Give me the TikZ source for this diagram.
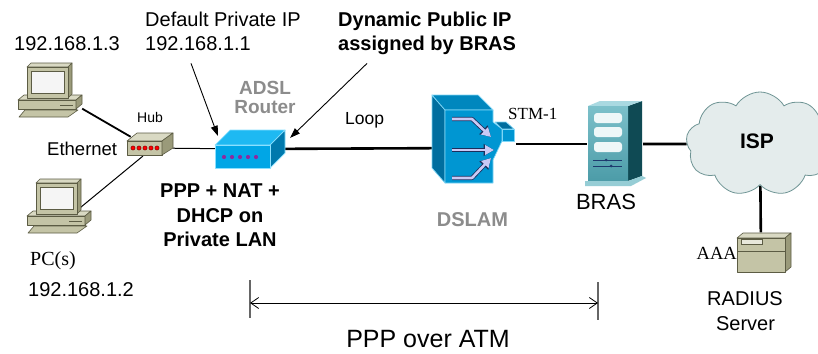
\documentclass[tikz,border=0pt]{standalone}
\usepackage{fontspec}
\setmainfont{Liberation Sans}
\newfontfamily\serifface{Liberation Serif}
\usetikzlibrary{arrows.meta,shapes.symbols}
\pgfdeclarelayer{background}
\pgfsetlayers{background,main}

\definecolor{khakiface}{HTML}{C4C4A6}
\definecolor{khakitop}{HTML}{D9D9C3}
\definecolor{khakiside}{HTML}{9A9A7A}
\definecolor{khakiline}{HTML}{5C5C44}
\definecolor{routerface}{HTML}{00A6E6}
\definecolor{routertop}{HTML}{1EB9F2}
\definecolor{routerside}{HTML}{0079AD}
\definecolor{routeredge}{HTML}{8AE0FF}
\definecolor{dotpurple}{HTML}{8A2BA0}
\definecolor{dslamfront}{HTML}{0096D2}
\definecolor{dslamside}{HTML}{006E9F}
\definecolor{dslamtop}{HTML}{0087BE}
\definecolor{dslamedge}{HTML}{7FD6F6}
\definecolor{arrowlav}{HTML}{C9C9F5}
\definecolor{arrowdark}{HTML}{1C2E5C}
\definecolor{brasfront}{HTML}{4C9CA8}
\definecolor{braslight}{HTML}{7CC0CA}
\definecolor{brastop}{HTML}{A9D9E1}
\definecolor{brasside}{HTML}{0F4A54}
\definecolor{brasbay}{HTML}{EEF7F8}
\definecolor{brasline}{HTML}{1E3A6E}
\definecolor{cloudfill}{HTML}{E4ECEC}
\definecolor{cloudedge}{HTML}{6E9494}
\definecolor{labelgray}{HTML}{8C8C8C}

\tikzset{
  txt/.style={inner sep=0pt, font=\fontsize{20}{24}\selectfont},
  txtb/.style={inner sep=0pt, font=\fontsize{20}{24}\selectfont\bfseries},
  txts/.style={inner sep=0pt, font=\fontsize{20}{24}\selectfont\serifface},
  device/.style={inner sep=0pt, draw=none, fill=none},
  khaki/.style={line width=0.6pt, line join=round, draw=khakiline},
  blueedge/.style={line width=0.7pt, line join=round, draw=routeredge},
  dslamedge/.style={line width=0.7pt, line join=round, draw=dslamedge},
  link/.style={black, line width=2.2pt},
  thinlink/.style={black, line width=1pt},
  callout/.style={black, line width=0.9pt, -{Triangle[length=10pt,width=7pt]}},
  dimtick/.style={black!60, line width=1.5pt},
  dimline/.style={black, line width=0.8pt,
    {Straight Barb[length=8pt,width=11pt]}-{Straight Barb[length=8pt,width=11pt]}},
}

% desktop PC, drawn from its top-left corner, y pointing down
\newcommand\netpcicon{%
  \fill[khakitop,khaki] (0,37)--(6,32)--(64,32)--(58,37)--cycle;
  \fill[khakiface,khaki] (0,37) rectangle (58,46);
  \fill[khakiside,khaki] (58,37)--(64,32)--(64,41)--(58,46)--cycle;
  \draw[khakiline,line width=1pt] (42,42)--(55,42);
  \fill[khakiface,khaki] (1,54)--(7,47)--(60,47)--(50,54)--cycle;
  \fill[khakitop,khaki] (9,4)--(13,0)--(54,0)--(50,4)--cycle;
  \fill[khakiside,khaki] (50,4)--(54,0)--(54,31)--(50,35)--cycle;
  \fill[khakiface,khaki] (9,4) rectangle (50,35);
  \fill[white!96!black,draw=khakiline,line width=0.9pt] (13,8) rectangle (46,30);
}

\begin{document}
\begin{tikzpicture}[x=1pt,y=-1pt]
\begin{pgfonlayer}{background}
  \fill[white] (0,0) rectangle (818,353);
\end{pgfonlayer}
\useasboundingbox (0,0) rectangle (818,353);

% ---------- devices ----------
\node[device, minimum width=64pt, minimum height=54pt] (pc1) at (50,90) {};
\begin{scope}[shift={(18,63)}] \netpcicon \end{scope}

\node[device, minimum width=64pt, minimum height=54pt] (pc2) at (59,206) {};
\begin{scope}[shift={(27,179)}] \netpcicon \end{scope}
\coordinate (pc2jack) at (75,212);
\coordinate (hubjack) at (143,156);

% hub
\node[device, minimum width=46pt, minimum height=22pt] (hub) at (150,148) {};
\fill[khakitop,khaki] (127,141)--(137,133)--(173,133)--(162,141)--cycle;
\fill[khakiface,khaki] (127,141) rectangle (162,155);
\fill[khakiside,khaki] (162,141)--(173,133)--(173,148)--(162,155)--cycle;
\foreach \x in {133,139,145,151,157}
  \fill[red,draw=red!45!black,line width=0.4pt] (\x,148) circle (2.1);

% ADSL router
\node[device, minimum width=70pt, minimum height=38pt] (router) at (250,149) {};
\fill[routertop,blueedge] (215,145)--(230,130)--(285,130)--(270,145)--cycle;
\fill[routerside,blueedge] (270,145)--(285,130)--(285,153)--(270,168)--cycle;
\fill[routerface,blueedge] (215,145) rectangle (270,168);
\foreach \x in {224,232,240,248,256}
  \fill[dotpurple] (\x,157) circle (2.1);

% DSLAM
\node[device, minimum width=84pt, minimum height=88pt] (dslam) at (474,148) {};
\fill[dslamside,dslamedge] (432,95)--(445,110)--(445,183)--(432,168)--cycle;
\fill[dslamtop,dslamedge] (432,95)--(478,95)--(493,110)--(445,110)--cycle;
\fill[dslamfront,dslamedge] (445,110)--(493,110)--(493,122)--(502,129)--(502,141)
  --(493,160)--(493,183)--(445,183)--cycle;
\fill[dslamside,dslamedge] (495,122)--(506,122)--(514,129)--(502,129)--cycle;
\fill[dslamfront,dslamedge] (502,129) rectangle (514,141);
\foreach \p in {{(452,119)--(472,119)--(491,137)},{(452,150)--(494,150)},{(452,178)--(472,178)--(491,158)}}{
  \draw[arrowdark,line width=4.2pt,line join=round,-{Triangle[length=10.5pt,width=11.5pt]}] \p;
  \draw[arrowlav,line width=2.6pt,line join=round,-{Triangle[length=9pt,width=9.5pt]}] \p;
}

% BRAS
\node[device, minimum width=56pt, minimum height=84pt] (bras) at (615,144) {};
\fill[brasside,line join=round] (628,106)--(642,101)--(642,176)--(628,181)--cycle;
\fill[brastop] (588,106)--(600,101)--(642,101)--(628,106)--cycle;
\shade[top color=braslight,bottom color=brasfront] (588,106) rectangle (628,181);
\fill[braslight!80!white] (585,181)--(628,181)--(642,176)--(646,178)--(631,186)--(585,186)--cycle;
\foreach \y in {113,127,142}
  \fill[brasbay,rounded corners=3pt] (594,\y) rectangle (622,\y+10);
\foreach \y in {160,166}
  \draw[brasline,line width=1pt] (593,\y)--(622,\y);
\fill[brasline] (606,160) circle (1.5) (611,166) circle (1.5);

% ISP cloud
\node[cloud, cloud puffs=9, cloud puff arc=120, aspect=1.4, fill=cloudfill,
  draw=cloudedge, line width=0.8pt, minimum width=148pt, minimum height=104pt,
  inner sep=0pt] (isp) at (760,144) {};

% RADIUS server
\node[device, minimum width=54pt, minimum height=39pt] (radius) at (761,252) {};
\fill[khakitop,khaki] (737,238)--(743,233)--(791,233)--(785,238)--cycle;
\fill[khakiside,khaki] (785,238)--(791,233)--(791,267)--(785,272)--cycle;
\fill[khakiface,khaki] (737,238) rectangle (785,272);
\draw[khakiline,line width=0.6pt] (737,251)--(785,251);
\fill[khakitop!60!white,draw=khakiline,line width=0.5pt] (741,239) rectangle (762,244);

% ---------- connectors ----------
\begin{pgfonlayer}{background}
  \draw[link,line width=1.8pt] (pc1) -- (hub);
  \draw[thinlink] (hubjack) -- (pc2jack);
  \draw[thinlink] (hub) -- (router);
  \draw[link,line width=2.6pt] (router) -- (dslam);
  \draw[link] (dslam.east |- bras.west) -- (bras);
  \draw[link,line width=2.6pt] (bras) -- (isp);
  \draw[link,line width=2.6pt] (isp) -- (radius);
\end{pgfonlayer}

% ---------- labels ----------
\node[txt, anchor=base west] (ip3) at (14,50) {192.168.1.3};
\node[txt, anchor=base west] (privip) at (145,27) {Default Private IP};
\node[txt, anchor=base west] (ip1) at (145,50) {192.168.1.1};
\node[txtb, anchor=base west] (pubip) at (338,27) {Dynamic Public IP};
\node[txtb, anchor=base west] (pubip2) at (338,51) {assigned by BRAS};
\node[txt, font=\fontsize{14}{17}\selectfont, anchor=base] (hublbl) at (150,122) {Hub};
\node[txt, font=\fontsize{18.5}{22}\selectfont, anchor=base west] (eth) at (47,155) {Ethernet};
\node[txtb, font=\fontsize{19}{22}\selectfont\bfseries, text=labelgray, anchor=base] (adsl1) at (265,94) {ADSL};
\node[txtb, font=\fontsize{19}{22}\selectfont\bfseries, text=labelgray, anchor=base] (adsl2) at (265,113) {Router};
\node[txtb, anchor=base] (feat1) at (220,197) {PPP + NAT +};
\node[txtb, anchor=base] (feat2) at (220,222) {DHCP on};
\node[txtb, anchor=base] (feat3) at (220,246) {Private LAN};
\node[txts, anchor=base west] (pcs) at (30,265) {PC(s)};
\node[txt, anchor=base west] (ip2) at (28,296) {192.168.1.2};
\node[txt, font=\fontsize{17.5}{21}\selectfont, anchor=base west] (loop) at (345,124) {Loop};
\node[txts, font=\fontsize{17}{20}\selectfont\serifface, anchor=base west] (stm) at (508,119) {STM-1};
\node[txtb, text=labelgray, anchor=base] (dslamlbl) at (472.5,226) {DSLAM};
\node[txt, font=\fontsize{22}{26}\selectfont, anchor=base] (braslbl) at (606,209) {BRAS};
\node[txtb, font=\fontsize{21}{25}\selectfont\bfseries, anchor=base] (isplbl) at (757,148) {ISP};
\node[txts, font=\fontsize{18.5}{22}\selectfont\serifface, anchor=base east] (aaa) at (737,259) {AAA};
\node[txt, anchor=base] (rad1) at (745,305) {RADIUS};
\node[txt, anchor=base] (rad2) at (745.5,330) {Server};

% callouts to the router
\draw[callout] ([xshift=-7pt,yshift=-13pt]ip1.south) -- ([xshift=3pt,yshift=-6pt]router.north west);
\draw[callout] ([xshift=29pt,yshift=-8pt]pubip2.south west) -- ([xshift=5pt,yshift=-8pt]router.north east);

% PPP over ATM span
\coordinate (spanL) at (250,303);
\coordinate (spanR) at (598,303);
\draw[dimtick] (250,280) -- (250,318);
\draw[dimtick] (598,282) -- (598,320);
\draw[dimline] (spanL) -- (spanR);
\node[txt, font=\fontsize{25}{30}\selectfont, anchor=base] (span) at (428,347) {PPP over ATM};
\end{tikzpicture}
\end{document}
